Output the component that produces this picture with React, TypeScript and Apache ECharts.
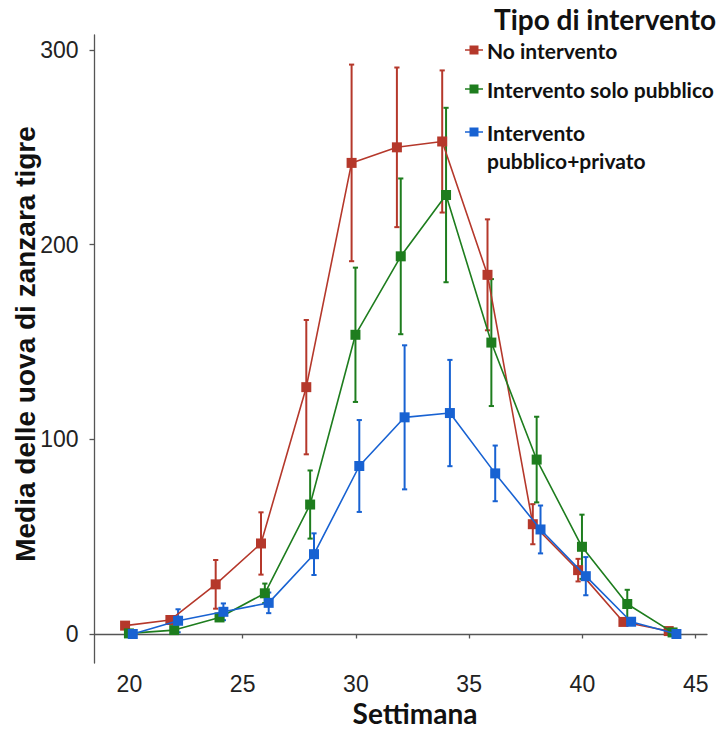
import React, { useEffect, useRef } from "react";
import * as echarts from "echarts";

const weeks = [20, 22, 24, 26, 28, 30, 32, 34, 36, 38, 40, 42, 44];
const seriesNames = ["No intervento", "Intervento solo pubblico", "Intervento pubblico+privato"];
const legendLabels = ["No intervento", "Intervento solo pubblico", "Intervento\npubblico+privato"];
const colors = ["#B5382B", "#1E7D1E", "#1862D2"];
const dodge = [-0.19, -0.02, 0.15];

const noIntervento = [4.3, 7.2, 25.5, 46.5, 126.8, 242, 250, 253, 184.5, 56.4, 32.8, 6.2, 1.5];
const noInterventoErr = [1, 2, 12.5, 16, 34.5, 50.5, 41, 36.5, 28.5, 10.3, 5.8, 1, 0.5];
const soloPubblico = [0.3, 2, 8.5, 20.9, 66.5, 153.7, 194, 225.5, 149.7, 89.6, 44.8, 15.4, 0.8];
const soloPubblicoErr = [0.5, 1, 1.5, 5, 17.5, 34.5, 40, 44.8, 32.6, 22, 16.5, 7.3, 0.5];
const pubblicoPrivato = [0, 6.8, 11.4, 16, 41, 86.3, 111.3, 113.5, 82.5, 53.7, 29.7, 6.3, 0];
const pubblicoPrivatoErr = [0.5, 5.9, 4.3, 5.3, 10.7, 23.6, 37, 27.3, 14.3, 12.3, 9.8, 1.5, 0.5];

const xTicks = [20, 25, 30, 35, 40, 45];
const yTicks = [0, 100, 200, 300];
const legendTitle = "Tipo di intervento";
const xTitle = "Settimana";
const yTitle = "Media delle uova di zanzara tigre";

const means = [noIntervento, soloPubblico, pubblicoPrivato];
const errs = [noInterventoErr, soloPubblicoErr, pubblicoPrivatoErr];

export default function App() {
  const ref = useRef<HTMLDivElement>(null);
  useEffect(() => {
    if (!ref.current) return;
    const chart = echarts.init(ref.current, null, { renderer: "svg" });
    const errSeries = means.map((m, s) => ({
      type: "custom",
      name: seriesNames[s] + " err",
      z: 1,
      data: weeks.map((w, i) => [w + dodge[s], m[i] - errs[s][i], m[i] + errs[s][i]]),
      encode: { x: 0, y: [1, 2] },
      renderItem: (params: any, api: any) => {
        const x = api.value(0);
        const lo = api.coord([x, api.value(1)]);
        const hi = api.coord([x, api.value(2)]);
        const cap = 2.6;
        const style = { stroke: colors[s], lineWidth: 2 };
        return {
          type: "group",
          children: [
            { type: "line", shape: { x1: lo[0], y1: lo[1], x2: hi[0], y2: hi[1] }, style },
            { type: "line", shape: { x1: hi[0] - cap, y1: hi[1], x2: hi[0] + cap, y2: hi[1] }, style },
            { type: "line", shape: { x1: lo[0] - cap, y1: lo[1], x2: lo[0] + cap, y2: lo[1] }, style },
          ],
        };
      },
    }));
    const lineSeries = means.map((m, s) => ({
      type: "line",
      name: seriesNames[s],
      z: 2 + s,
      data: weeks.map((w, i) => [w + dodge[s], m[i]]),
      symbol: "rect",
      symbolSize: 10,
      itemStyle: { color: colors[s] },
      lineStyle: { color: colors[s], width: 1.6 },
    }));

    const legendItems: any[] = [];
    const tops = [36, 75, 118];
    seriesNames.forEach((n, s) => {
      const cy = tops[s] + 14;
      legendItems.push(
        { type: "line", shape: { x1: 465, y1: cy, x2: 483, y2: cy }, style: { stroke: colors[s], lineWidth: 1.5 } },
        { type: "rect", shape: { x: 469.5, y: cy - 4.5, width: 9, height: 9 }, style: { fill: colors[s] } },
        {
          type: "text",
          x: 487,
          y: tops[s],
          style: {
            text: legendLabels[s],
            fill: "#111",
            font: "bold 21px Lato",
            lineHeight: 28,
            verticalAlign: "top",
            align: "left",
          },
        }
      );
    });

    chart.setOption({
      animation: false,
      grid: { left: 94.5, right: 20, top: 35, bottom: 66 },
      xAxis: {
        type: "value",
        min: 18.46,
        max: 45.5,
        splitLine: { show: false },
        axisLine: { show: true, lineStyle: { color: "#555", width: 1.3 } },
        axisTick: { show: true, customValues: xTicks, length: 4.5, lineStyle: { color: "#555", width: 1.3 } },
        axisLabel: {
          customValues: xTicks,
          fontFamily: "Liberation Sans",
          fontSize: 23,
          color: "#222",
          margin: 9,
        },
      },
      yAxis: {
        type: "value",
        min: -14.9,
        max: 307.7,
        splitLine: { show: false },
        axisLine: { show: true, lineStyle: { color: "#555", width: 1.3 } },
        axisTick: { show: true, customValues: yTicks, length: 5, lineStyle: { color: "#555", width: 1.3 } },
        axisLabel: {
          customValues: yTicks,
          fontFamily: "Liberation Sans",
          fontSize: 23,
          color: "#222",
          margin: 16,
        },
      },
      graphic: [
        {
          type: "text",
          x: 605,
          y: 19,
          style: { text: legendTitle, fill: "#111", font: "bold 28px Lato", align: "center", verticalAlign: "middle" },
        },
        ...legendItems,
        {
          type: "text",
          x: 415,
          y: 713,
          style: { text: xTitle, fill: "#111", font: "bold 28px Lato", align: "center", verticalAlign: "middle" },
        },
        {
          type: "text",
          x: 25,
          y: 344,
          rotation: Math.PI / 2,
          style: {
            text: yTitle,
            fill: "#111",
            font: "bold 28px 'Liberation Sans'",
            align: "center",
            verticalAlign: "middle",
          },
        },
      ],
      series: [...errSeries, ...lineSeries],
    });
    return () => chart.dispose();
  }, []);
  return (
    <div
      ref={ref}
      style={{ position: "fixed", left: 0, top: 0, width: 727, height: 729, background: "#fff" }}
    />
  );
}
